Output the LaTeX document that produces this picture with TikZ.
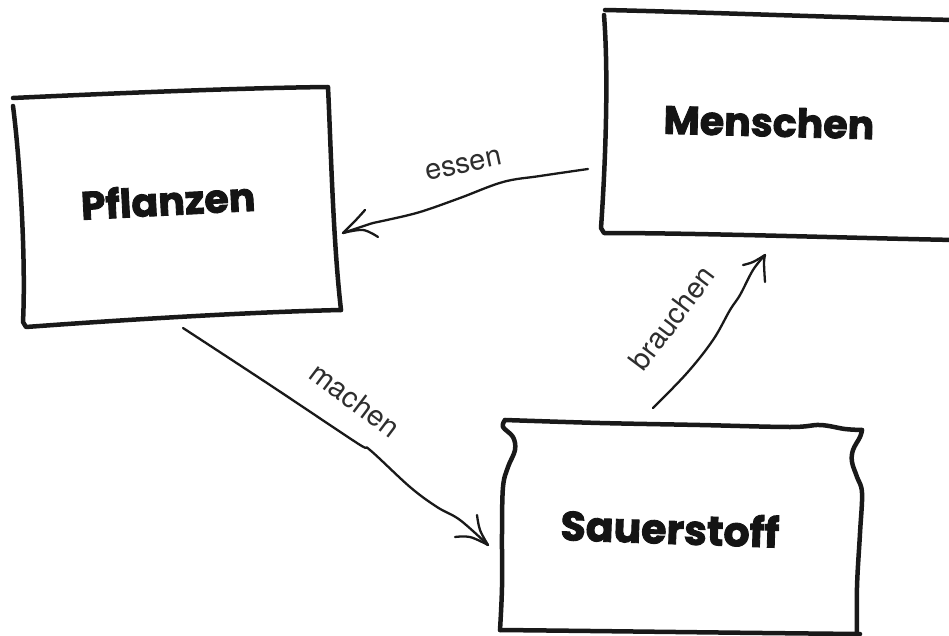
\documentclass[tikz,border=0pt]{standalone}
\usepackage{fontspec}
\setmainfont{Poppins}
\newfontfamily\boxfont{Poppins}[BoldFeatures={FakeBold=2.2}]
\newfontfamily\lblfont{TeX Gyre Heros}
\begin{document}
\begin{tikzpicture}[x=1pt,y=-1pt,
  boxline/.style={line width=4.5pt,line cap=round,line join=round,black!90},
  conn/.style={line width=2.3pt,line cap=round,line join=round,black!90},
  boxlbl/.style={font=\boxfont\fontsize{39.5}{44}\selectfont\bfseries,inner sep=0pt,text=black!92},
  edgelbl/.style={font=\lblfont\fontsize{29}{32}\selectfont,inner sep=0pt,text=black!82}]
\useasboundingbox (0,0) rectangle (949,636);
% ---- Pflanzen box
\draw[boxline] (13,98) .. controls (120,93) and (240,88) .. (328,87)
   .. controls (331,150) and (333,240) .. (341,310);
\draw[boxline] (13,106) .. controls (20,160) and (26,260) .. (23,322) -- (26,327)
   .. controls (120,320) and (250,312) .. (341,310);
\node[boxlbl,rotate=3] (pfl) at (168,200) {Pflanzen};
% ---- Menschen box
\draw[boxline] (605,10) .. controls (700,12) and (850,18) .. (955,20);
\draw[boxline] (604,15) .. controls (609,80) and (605,170) .. (601,228) -- (604,233)
   .. controls (700,233) and (850,238) .. (955,240);
\node[boxlbl,rotate=-1.5] (men) at (769,122) {Menschen};
% ---- Sauerstoff box
\draw[boxline] plot[smooth,tension=0.6] coordinates {(505,420) (600,423) (700,425) (790,427) (820,425) (845,429) (862,430)};
\draw[boxline] plot[smooth,tension=0.6] coordinates {(505,420) (503,427) (513,437) (515,450) (508,467) (503,487) (502,533) (502,587) (500,630)};
\draw[boxline] plot[smooth,tension=0.6] coordinates {(862,430) (860,437) (853,450) (852,462) (857,477) (862,493) (860,533) (857,587) (857,640)};
\draw[boxline] (500,630) .. controls (600,631) and (750,633) .. (860,634);
\node[boxlbl,rotate=-2] (sau) at (670,528) {\fontsize{41}{44}\selectfont Sauerstoff};
% ---- connector end points
\coordinate (essA) at (588,169);
\coordinate (essB) at (343,233);
\coordinate (macA) at (183,328);
\coordinate (macB) at (488,545);
\coordinate (brauA) at (653,408);
\coordinate (brauB) at (765,255);
% ---- essen
\draw[conn] plot[smooth,tension=0.6] coordinates {(essA) (540,176) (503,182) (460,198) (420,212) (387,220) (373,223) (essB)};
\draw[conn] plot[smooth,tension=0.6] coordinates {(essB) (355,221) (365,210)};
\draw[conn] plot[smooth,tension=0.6] coordinates {(essB) (363,230) (378,237)};
\node[edgelbl,rotate=12] (lessen) at (464,165) {essen};
% ---- machen
\draw[conn] plot[smooth,tension=0.6] coordinates {(macA) (270,385) (357,443) (370,450) (410,487) (437,507) (460,520) (macB)};
\draw[conn] plot[smooth,tension=0.6] coordinates {(macB) (480,530) (477,515)};
\draw[conn] plot[smooth,tension=0.6] coordinates {(macB) (470,537) (455,537)};
\node[edgelbl,rotate=-37] (lmachen) at (355,400) {machen};
% ---- brauchen
\draw[conn] plot[smooth,tension=0.6] coordinates {(brauA) (687,373) (713,340) (730,310) (740,295) (753,270) (brauB)};
\draw[conn] plot[smooth,tension=0.6] coordinates {(brauB) (753,262) (743,265)};
\draw[conn] plot[smooth,tension=0.6] coordinates {(brauB) (764,263) (765,282)};
\node[edgelbl,rotate=53] (lbrauchen) at (672,318) {brauchen};
\end{tikzpicture}
\end{document}
